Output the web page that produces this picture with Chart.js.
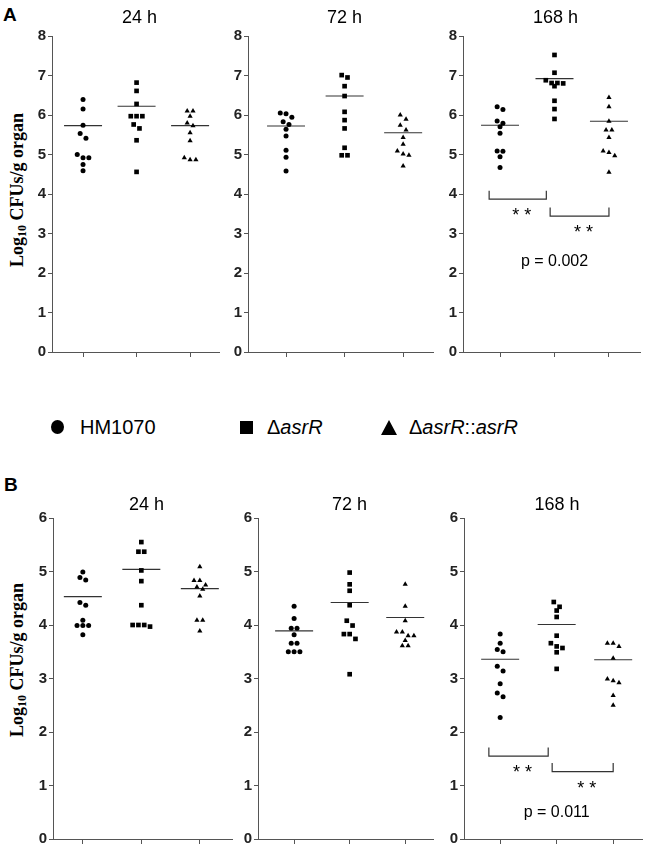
<!DOCTYPE html>
<html>
<head>
<meta charset="utf-8">
<script src="https://cdn.jsdelivr.net/npm/chart.js@4.4.0/dist/chart.umd.min.js"></script>
<style>
  html,body{margin:0;padding:0;background:#fff}
  body{width:649px;height:851px;position:relative;overflow:hidden;font-family:Arial,"Liberation Sans",sans-serif;color:#000}
  canvas{position:absolute}
  .letter{position:absolute;font-weight:bold;font-size:19px;line-height:19px}
  .ytitle{position:absolute;width:200px;height:20px;line-height:20px;text-align:center;transform:rotate(-90deg);
          font-family:"Liberation Serif","Times New Roman",serif;font-weight:bold;font-size:18px;white-space:nowrap}
  .ytitle sub{font-size:12px;vertical-align:-3px}
  .leg{position:absolute;top:416px;height:22px;line-height:22px;font-size:20px;white-space:nowrap}
  .mk{position:absolute;background:#000}
</style>
</head>
<body>
<div class="letter" style="left:3px;top:5px">A</div>
<div class="letter" style="left:4px;top:475px">B</div>
<div class="ytitle" style="left:-83px;top:180px">Log<sub>10</sub> CFUs/g organ</div>
<div class="ytitle" style="left:-83px;top:650px">Log<sub>10</sub> CFUs/g organ</div>

<div class="mk" style="left:51px;top:420px;width:13px;height:14px;border-radius:50%"></div>
<div class="leg" id="leg0" style="left:80px"></div>
<div class="mk" style="left:240px;top:421px;width:13px;height:13px"></div>
<div class="leg" id="leg1" style="left:267px"></div>
<div class="mk" style="left:381px;top:420px;width:0;height:0;background:none;border-left:8.5px solid transparent;border-right:8.5px solid transparent;border-bottom:15px solid #000"></div>
<div class="leg" id="leg2" style="left:409px"></div>

<script>
// ---------------- DATA (Log10 CFUs / g organ) ----------------
const timepoints = ['24 h', '72 h', '168 h'];
const strains = ['HM1070', 'ΔasrR', 'ΔasrR::asrR'];

// Panel A
const A_24h_HM1070 = [6.39, 6.15, 5.74, 5.53, 5.41, 5.00, 4.92, 4.92, 4.75, 4.59];
const A_24h_asrR   = [6.82, 6.61, 6.28, 5.97, 5.97, 5.97, 5.76, 5.66, 5.36, 4.56];
const A_24h_comp   = [6.10, 6.10, 5.97, 5.80, 5.73, 5.55, 5.35, 4.92, 4.87, 4.87];
const A_72h_HM1070 = [6.05, 6.03, 5.94, 5.83, 5.76, 5.64, 5.47, 5.11, 4.93, 4.58];
const A_72h_asrR   = [7.01, 6.95, 6.73, 6.48, 6.08, 5.87, 5.66, 5.17, 4.98, 4.98];
const A_72h_comp   = [6.00, 5.89, 5.74, 5.62, 5.43, 5.26, 5.09, 5.01, 4.98, 4.71];
const A_168h_HM1070 = [6.21, 6.14, 5.85, 5.79, 5.70, 5.54, 5.09, 5.08, 4.94, 4.67];
const A_168h_asrR   = [7.52, 7.07, 6.88, 6.81, 6.81, 6.80, 6.73, 6.36, 6.15, 5.90];
const A_168h_comp   = [6.44, 6.21, 5.84, 5.62, 5.62, 5.43, 5.09, 5.05, 4.97, 4.55];
const A_means = [[5.73, 6.22, 5.73], [5.72, 6.48, 5.55], [5.74, 6.92, 5.84]];
const A_yTicks = [0, 1, 2, 3, 4, 5, 6, 7, 8];

// Panel B
const B_24h_HM1070 = [4.99, 4.89, 4.84, 4.42, 4.37, 4.09, 3.99, 3.99, 3.99, 3.82];
const B_24h_asrR   = [5.55, 5.37, 5.37, 5.02, 4.82, 4.37, 4.00, 4.00, 4.00, 3.97];
const B_24h_comp   = [5.09, 4.83, 4.83, 4.75, 4.71, 4.67, 4.54, 4.09, 4.09, 3.89];
const B_72h_HM1070 = [4.35, 4.12, 3.94, 3.94, 3.82, 3.66, 3.66, 3.50, 3.50, 3.50];
const B_72h_asrR   = [4.98, 4.76, 4.64, 4.37, 4.08, 3.99, 3.83, 3.83, 3.74, 3.08];
const B_72h_comp   = [4.76, 4.35, 4.08, 3.87, 3.87, 3.80, 3.80, 3.71, 3.61, 3.61];
const B_168h_HM1070 = [3.83, 3.66, 3.54, 3.50, 3.23, 3.14, 2.90, 2.73, 2.66, 2.27];
const B_168h_asrR   = [4.43, 4.34, 4.27, 4.15, 3.80, 3.66, 3.60, 3.57, 3.49, 3.18];
const B_168h_comp   = [3.66, 3.66, 3.60, 3.38, 2.99, 2.96, 2.92, 2.68, 2.50];
const B_means = [[4.53, 5.04, 4.68], [3.89, 4.42, 4.14], [3.36, 4.01, 3.35]];
const B_yTicks = [0, 1, 2, 3, 4, 5, 6];

// Significance annotations (168 h panels)
const comparisons = [[1, 2], [2, 3]];
const sigLabels = ['**', '**'];
const A_bracketLevels = [3.87, 3.44];
const B_bracketLevels = [1.55, 1.26];
const pValueText = ['p = 0.002', 'p = 0.011'];
const pValueLevels = [2.28, 0.49];

// ---------------- LAYOUT / STYLE ----------------
document.getElementById('leg0').innerHTML = strains[0];
document.getElementById('leg1').innerHTML = 'Δ<i>asrR</i>';
document.getElementById('leg2').innerHTML = 'Δ<i>asrR</i>::<i>asrR</i>';

const AXIS = '#555';
const FONT = 'Arial, "Liberation Sans", sans-serif';
const pointStyles = ['circle', 'rect', 'triangle'];
const pointRadii = [2.5, 3.3, 3.0];
const rowSpacing = 5.8;
const rowThreshold = 5;
const meanHalfPx = 19;
const bracketInset = [[-0.2, -0.15], [-0.08, 0]];
const tipPx = 8.5;

const panelDefs = {
  A: { top: 36, bottom: 352, yMax: 8, ticks: A_yTicks, titleGap: 18,
       groups: [[A_24h_HM1070, A_24h_asrR, A_24h_comp], [A_72h_HM1070, A_72h_asrR, A_72h_comp], [A_168h_HM1070, A_168h_asrR, A_168h_comp]],
       means: A_means, brackets: A_bracketLevels, pIdx: 0,
       cols: [{L:52,R:219,min:0.42,max:3.54},{L:248,R:433,min:0.35,max:3.51},{L:463,R:640,min:0.32,max:3.57}] },
  B: { top: 518, bottom: 839, yMax: 6, ticks: B_yTicks, titleGap: 13,
       groups: [[B_24h_HM1070, B_24h_asrR, B_24h_comp], [B_72h_HM1070, B_72h_asrR, B_72h_comp], [B_168h_HM1070, B_168h_asrR, B_168h_comp]],
       means: B_means, brackets: B_bracketLevels, pIdx: 1,
       cols: [{L:53,R:232,min:0.49,max:3.55},{L:258,R:433,min:0.35,max:3.50},{L:464,R:642,min:0.36,max:3.51}] }
};

// Prism-like row layout: points with nearly equal values sit side by side, centred
function rowOffsets(values, pxPerY, pxPerX) {
  const order = values.map((v, i) => i).sort((a, b) => values[b] - values[a]);
  const offs = new Array(values.length).fill(0);
  let row = [];
  const flush = () => {
    row.forEach((idx, k) => { offs[idx] = (k - (row.length - 1) / 2) * rowSpacing / pxPerX; });
    row = [];
  };
  for (const i of order) {
    if (row.length && (values[row[0]] - values[i]) * pxPerY >= rowThreshold) flush();
    row.push(i);
  }
  flush();
  return offs;
}

const textPlugin = {
  id: 'panelText',
  afterDraw(chart, args, o) {
    const { ctx, chartArea, scales: { x, y } } = chart;
    ctx.save();
    ctx.fillStyle = '#000';
    ctx.textAlign = 'center';
    ctx.textBaseline = 'middle';
    ctx.font = '18px ' + FONT;
    ctx.fillText(o.title, (chartArea.left + chartArea.right) / 2 + 4, chartArea.top - o.titleGap);
    (o.labels || []).forEach(l => {
      ctx.font = l.font;
      ctx.fillText(l.text, x.getPixelForValue(l.x) + (l.dx || 0), y.getPixelForValue(l.y) + (l.dy || 0));
    });
    ctx.restore();
  }
};

Object.entries(panelDefs).forEach(([key, P]) => {
  P.cols.forEach((c, t) => {
    const padTop = 40, yW = 40, xH = 14, padR = 4;
    const W = c.R - c.L + yW + padR;
    const H = P.bottom - P.top + padTop + xH;
    const cv = document.createElement('canvas');
    cv.width = W; cv.height = H;
    cv.style.left = (c.L - yW) + 'px';
    cv.style.top = (P.top - padTop) + 'px';
    cv.style.width = W + 'px'; cv.style.height = H + 'px';
    document.body.appendChild(cv);

    const pxPerY = (P.bottom - P.top) / P.yMax;
    const pxPerX = (c.R - c.L) / (c.max - c.min);
    const datasets = [];
    P.groups[t].forEach((vals, g) => {
      const offs = rowOffsets(vals, pxPerY, pxPerX);
      datasets.push({
        label: strains[g],
        data: vals.map((v, i) => ({ x: g + 1 + offs[i], y: v })),
        pointStyle: pointStyles[g], pointRadius: pointRadii[g], pointBorderWidth: 0,
        backgroundColor: '#000', borderColor: '#000', showLine: false
      });
    });
    P.means[t].forEach((m, g) => {
      const hw = meanHalfPx / pxPerX;
      datasets.push({
        data: [{ x: g + 1 - hw, y: m }, { x: g + 1 + hw, y: m }],
        showLine: true, pointRadius: 0, borderColor: '#333', borderWidth: 1.1
      });
    });
    const labels = [];
    if (t === 2) {
      comparisons.forEach((cmp, k) => {
        const x1 = cmp[0] + bracketInset[k][0], x2 = cmp[1] + bracketInset[k][1];
        const yb = P.brackets[k], tip = tipPx / pxPerY;
        datasets.push({
          data: [{ x: x1, y: yb + tip }, { x: x1, y: yb }, { x: x2, y: yb }, { x: x2, y: yb + tip }],
          showLine: true, pointRadius: 0, borderColor: '#333', borderWidth: 1.2
        });
        labels.push({ text: '* *', x: (x1 + x2) / 2, y: yb, dx: 4, dy: 17, font: '18px ' + FONT });
      });
      labels.push({ text: pValueText[P.pIdx], x: 2, y: pValueLevels[P.pIdx], font: '16px ' + FONT });
    }

    new Chart(cv, {
      type: 'scatter',
      data: { datasets },
      plugins: [textPlugin],
      options: {
        responsive: false, animation: false, devicePixelRatio: 1, events: [],
        layout: { padding: { top: padTop, right: padR, left: 0, bottom: 0 } },
        plugins: { legend: { display: false }, tooltip: { enabled: false },
                   panelText: { title: timepoints[t], titleGap: P.titleGap, labels } },
        scales: {
          x: {
            type: 'linear', min: c.min, max: c.max,
            afterBuildTicks: s => { s.ticks = [1, 2, 3].map(v => ({ value: v })); },
            afterFit: s => { s.height = xH; },
            ticks: { display: false },
            grid: { drawOnChartArea: false, drawTicks: true, tickLength: 5, color: AXIS, lineWidth: 1 },
            border: { display: true, color: AXIS, width: 1 }
          },
          y: {
            type: 'linear', min: 0, max: P.yMax,
            afterBuildTicks: s => { s.ticks = P.ticks.map(v => ({ value: v })); },
            afterFit: s => { s.width = yW; },
            ticks: { color: '#222', padding: 2, font: { family: FONT, size: 15, weight: 'bold' } },
            grid: { drawOnChartArea: false, drawTicks: true, tickLength: 4, color: AXIS, lineWidth: 1 },
            border: { display: true, color: AXIS, width: 1 }
          }
        }
      }
    });
  });
});
</script>
</body>
</html>
